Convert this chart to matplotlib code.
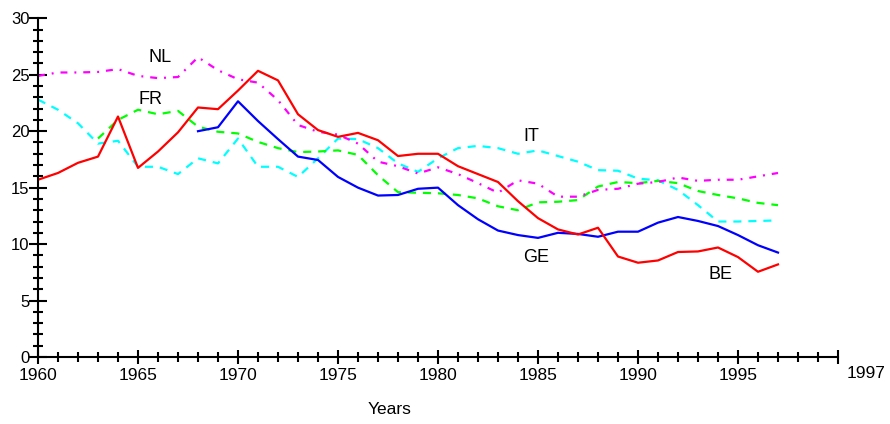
import matplotlib
matplotlib.use("Agg")
import matplotlib.pyplot as plt
from matplotlib.ticker import MultipleLocator, FixedLocator, FixedFormatter

plt.rcParams['font.family'] = ['Liberation Sans', 'DejaVu Sans']
plt.rcParams['lines.scale_dashes'] = False

years_all = list(range(1960, 1998))
be = [15.7, 16.3, 17.2, 17.75, 21.3, 16.75, 18.2, 19.9, 22.1, 21.95,
      23.6, 25.35, 24.5, 21.5, 20.1, 19.5, 19.85, 19.2, 17.8, 18.0,
      18.0, 16.9, 16.2, 15.5, 13.8, 12.3, 11.3, 10.85, 11.45, 8.9,
      8.35, 8.55, 9.3, 9.35, 9.7, 8.85, 7.55, 8.2]
ge_years = list(range(1968, 1998))
ge = [20.0, 20.35, 22.65, 20.9, 19.3, 17.75, 17.45, 15.95, 15.0, 14.3,
      14.35, 14.9, 15.0, 13.45, 12.2, 11.2, 10.8, 10.55, 11.0, 10.9,
      10.65, 11.1, 11.1, 11.9, 12.4, 12.05, 11.6, 10.8, 9.9, 9.25]
nl = [24.9, 25.2, 25.2, 25.25, 25.5, 24.9, 24.7, 24.8, 26.55, 25.4,
      24.6, 24.3, 22.75, 20.55, 19.95, 19.7, 18.9, 17.3, 16.9, 16.25,
      16.8, 16.2, 15.4, 14.55, 15.65, 15.35, 14.2, 14.2, 14.8, 14.9,
      15.35, 15.5, 15.9, 15.6, 15.7, 15.7, 16.0, 16.3]
fr_years = list(range(1963, 1998))
fr = [19.35, 21.0, 21.9, 21.5, 21.8, 20.4, 19.95, 19.8, 19.05, 18.5,
      18.15, 18.2, 18.3, 17.9, 16.1, 14.6, 14.55, 14.5, 14.35, 14.05,
      13.35, 13.0, 13.7, 13.75, 13.9, 15.1, 15.5, 15.4, 15.6, 15.4,
      14.7, 14.35, 14.05, 13.65, 13.45]
it = [22.8, 21.9, 20.7, 18.9, 19.15, 16.85, 16.85, 16.2, 17.6, 17.15,
      19.35, 16.85, 16.85, 15.95, 17.6, 19.35, 19.3, 18.5, 17.15, 16.4,
      17.6, 18.5, 18.7, 18.5, 18.0, 18.3, 17.8, 17.3, 16.55, 16.5,
      15.8, 15.65, 14.8, 13.45, 12.0, 12.0, 12.05, 12.1]

series_labels = ['NL', 'FR', 'IT', 'GE', 'BE']
label_pos = [(1966.1, 26.5), (1965.6, 22.85), (1984.65, 19.57),
             (1984.9, 8.84), (1994.15, 7.33)]
major_ticks = [1960, 1965, 1970, 1975, 1980, 1985, 1990, 1995, 2000]
major_labels = ['1960', '1965', '1970', '1975', '1980', '1985', '1990', '1995', '']

fig = plt.figure(figsize=(8.9, 4.24), dpi=100)
ax = fig.add_axes([38/890, 1 - 357/424, 800/890, (357-18.3)/424])

lw = 1.6
ax.plot(years_all, it, color='#00ffff', lw=lw, dashes=(5.8, 5))
ax.plot(fr_years, fr, color='#00ff00', lw=lw, dashes=(5.8, 5))
ax.plot(years_all, nl, color='#ff00ff', lw=lw, dashes=(5, 5, 1.4, 5))
ax.plot(ge_years, ge, color='#0000ff', lw=lw)
ax.plot(years_all, be, color='#ff0000', lw=lw)

for lab, (x, y) in zip(series_labels, label_pos):
    ax.text(x, y, lab, fontsize=13, ha='center', va='center')

ax.set_xlim(1960, 2000)
ax.set_ylim(0, 30)
for s in ['top', 'right']:
    ax.spines[s].set_visible(False)
for s in ['left', 'bottom']:
    ax.spines[s].set_linewidth(1.5)

ax.xaxis.set_major_locator(FixedLocator(major_ticks))
ax.xaxis.set_major_formatter(FixedFormatter(major_labels))
ax.xaxis.set_minor_locator(MultipleLocator(1))
ax.yaxis.set_major_locator(MultipleLocator(5))
ax.yaxis.set_minor_locator(MultipleLocator(1))

ax.tick_params(axis='x', which='major', direction='inout', length=10, width=1.5,
               labelsize=12.5, pad=3)
ax.tick_params(axis='x', which='minor', direction='inout', length=6.5, width=1.5)
ax.tick_params(axis='y', which='major', direction='inout', length=12.5, width=1.5,
               labelsize=12, pad=0)
ax.tick_params(axis='y', which='minor', direction='inout', length=6.5, width=1.5)

ax.annotate('1997', xy=(2000, 0), xycoords='data', xytext=(9, -16),
            textcoords='offset pixels', fontsize=12.5, ha='left', va='center',
            annotation_clip=False)
ax.text(1977.6, -4.64, 'Years', fontsize=12.5, ha='center', va='center', clip_on=False)

fig.savefig('out.png', dpi=100)
